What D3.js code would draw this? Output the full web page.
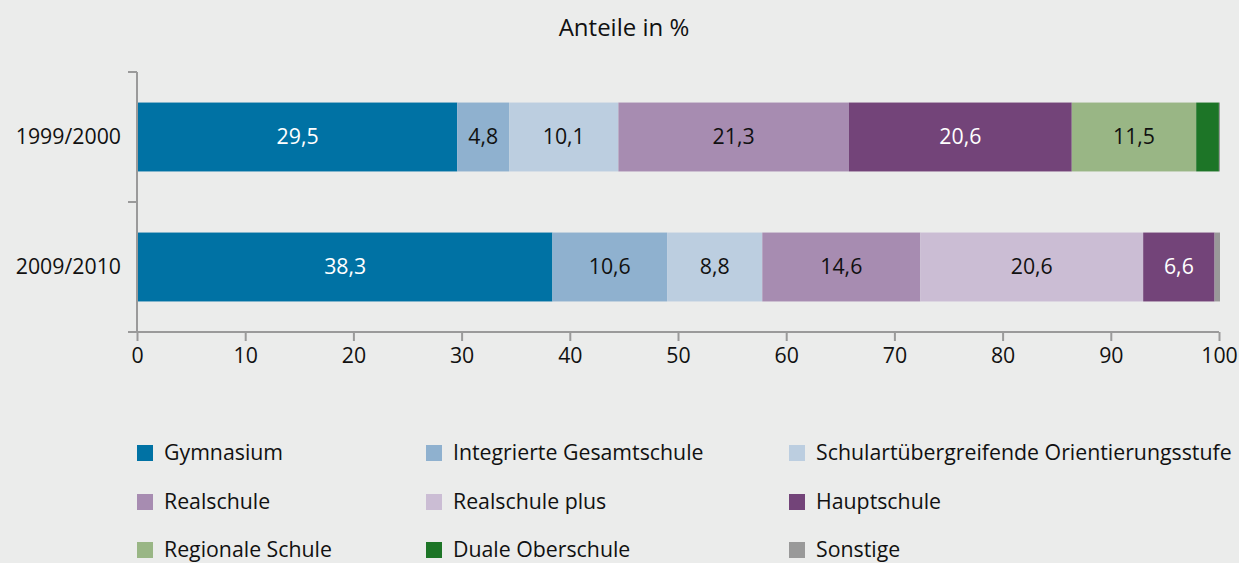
<!DOCTYPE html>
<html>
<head>
<meta charset="utf-8">
<script src="https://cdn.jsdelivr.net/npm/d3@7"></script>
<style>
  body { margin: 0; background: #ebeceb; }
  svg { display: block; font-family: "Open Sans", "Noto Sans", sans-serif; }
</style>
</head>
<body>
<div id="chart"></div>
<script>
// data
var years = ["1999/2000", "2009/2010"];
var schoolTypes = ["Gymnasium", "Integrierte Gesamtschule", "Schulartübergreifende Orientierungsstufe",
                   "Realschule", "Realschule plus", "Hauptschule",
                   "Regionale Schule", "Duale Oberschule", "Sonstige"];
var values1999 = [29.5, 4.8, 10.1, 21.3, 0, 20.6, 11.5, 2.1, 0.1];
var values2009 = [38.3, 10.6, 8.8, 14.6, 20.6, 6.6, 0, 0, 0.5];
var colors = ["#0072a4", "#8fb1cf", "#bccee0", "#a78cb1", "#cbbdd4", "#734479", "#99b685", "#1d7527", "#999999"];
var whiteLabels = ["Gymnasium", "Hauptschule"];
var xTicks = [0, 10, 20, 30, 40, 50, 60, 70, 80, 90, 100];

var width = 1239, height = 563;
var fs = 21.3;
var svg = d3.select("#chart").append("svg")
    .attr("width", width)
    .attr("height", height);

svg.append("rect").attr("width", width).attr("height", height).attr("fill", "#ebeceb");

var x = d3.scaleLinear().domain([0, 100]).range([137, 1219]);
var y = d3.scaleBand().domain(years).range([72, 332]).paddingInner(0.47).paddingOuter(0.235);

// title
svg.append("text")
    .attr("x", 624).attr("y", 36)
    .attr("text-anchor", "middle")
    .attr("font-size", 24)
    .attr("fill", "#111")
    .text("Anteile in %");

// stack the rows
var rows = years.map(function (yr, i) {
    var vals = i === 0 ? values1999 : values2009;
    var acc = 0;
    return vals.map(function (v, j) {
        var seg = { year: yr, type: schoolTypes[j], value: v, x0: acc, x1: acc + v, color: colors[j] };
        acc += v;
        return seg;
    }).filter(function (s) { return s.value > 0; });
});
var segments = d3.merge(rows);

svg.selectAll("rect.seg")
    .data(segments)
    .enter()
    .append("rect")
    .attr("class", "seg")
    .attr("x", function (d) { return x(d.x0) + 1; })
    .attr("y", function (d) { return y(d.year); })
    .attr("width", function (d) { return x(d.x1) - x(d.x0); })
    .attr("height", y.bandwidth())
    .attr("fill", function (d) { return d.color; });

svg.selectAll("text.val")
    .data(segments.filter(function (d) { return d.value >= 3; }))
    .enter()
    .append("text")
    .attr("class", "val")
    .attr("x", function (d) { return x((d.x0 + d.x1) / 2) + 1; })
    .attr("y", function (d) { return y(d.year) + y.bandwidth() / 2; })
    .attr("dy", "0.35em")
    .attr("text-anchor", "middle")
    .attr("font-size", fs)
    .attr("fill", function (d) { return whiteLabels.indexOf(d.type) >= 0 ? "#ffffff" : "#111111"; })
    .text(function (d) { return d3.format(".1f")(d.value).replace(".", ","); });

// axes
var axisColor = "#9a9a9a";
var xAxis = svg.append("g")
    .attr("transform", "translate(0,332)")
    .call(d3.axisBottom(x).tickValues(xTicks).tickSize(9).tickPadding(7).tickSizeOuter(0));
xAxis.select(".domain").attr("stroke", axisColor).attr("stroke-width", 2)
    .attr("d", "M128,0H" + x(100));
xAxis.selectAll(".tick line").attr("stroke", axisColor).attr("stroke-width", 2);
xAxis.selectAll(".tick text").attr("font-size", fs).attr("fill", "#111")
    .attr("font-family", "'Open Sans', 'Noto Sans', sans-serif");

var yAxis = svg.append("g")
    .attr("transform", "translate(137,0)")
    .call(d3.axisLeft(y).tickSize(0).tickPadding(16));
yAxis.select(".domain").attr("stroke", axisColor).attr("stroke-width", 2)
    .attr("d", "M0,72V332");
yAxis.selectAll(".tick text").attr("font-size", fs).attr("fill", "#111")
    .attr("font-family", "'Open Sans', 'Noto Sans', sans-serif");

// band separator ticks on the y axis
var bandEdges = [y.range()[0], (y(years[0]) + y.bandwidth() + y(years[1])) / 2, y.range()[1]];
svg.selectAll("line.band")
    .data(bandEdges)
    .enter()
    .append("line")
    .attr("x1", 128).attr("x2", 137)
    .attr("y1", function (d) { return d; }).attr("y2", function (d) { return d; })
    .attr("stroke", axisColor).attr("stroke-width", 2);

// legend
var legendCols = [137, 426, 789];
var legendRows = [453, 502, 550];
var legend = svg.selectAll("g.leg")
    .data(schoolTypes)
    .enter()
    .append("g")
    .attr("class", "leg")
    .attr("transform", function (d, i) {
        return "translate(" + legendCols[i % 3] + "," + legendRows[Math.floor(i / 3)] + ")";
    });
legend.append("rect")
    .attr("x", 0).attr("y", -8)
    .attr("width", 16).attr("height", 16)
    .attr("fill", function (d, i) { return colors[i]; });
legend.append("text")
    .attr("x", 27).attr("y", 0)
    .attr("dy", "0.35em")
    .attr("font-size", fs)
    .attr("fill", "#111")
    .text(function (d) { return d; });
</script>
</body>
</html>
